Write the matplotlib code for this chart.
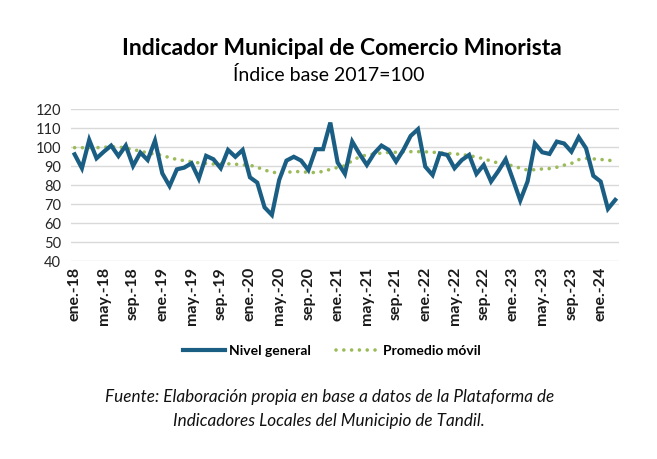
import numpy as np
import matplotlib
matplotlib.use("Agg")
import matplotlib.pyplot as plt

plt.rcParams['font.family'] = ['Lato', 'DejaVu Sans']

# monthly series, ene-18 .. mar-24
meses = ['ene.', 'feb.', 'mar.', 'abr.', 'may.', 'jun.',
         'jul.', 'ago.', 'sep.', 'oct.', 'nov.', 'dic.']
anios = ['18', '19', '20', '21', '22', '23', '24']

nivel_general = [
    96.3, 89.0, 103.9, 94.2, 97.7, 100.9, 95.4, 100.9, 90.2, 97.2, 93.3, 103.5,
    86.3, 79.6, 88.4, 89.3, 91.6, 83.5, 95.5, 93.7, 89.0, 98.6, 95.0, 98.6,
    84.2, 81.4, 68.4, 64.4, 82.8, 93.0, 95.0, 93.0, 88.0, 99.0, 99.0, 113.0,
    92.0, 86.0, 103.0, 96.5, 90.7, 96.8, 100.9, 98.6, 92.5, 98.6, 106.0, 109.5,
    89.8, 85.4, 96.8, 96.0, 89.0, 93.3, 96.0, 86.0, 90.7, 82.0, 87.5, 93.7,
    83.0, 72.0, 82.0, 102.0, 97.4, 96.5, 103.0, 102.0, 97.7, 105.3, 99.5, 85.0,
    82.0, 67.6, 72.3,
]

promedio_movil = [
    99.8, 99.8, 99.8, 99.8, 100.0, 100.3, 100.2, 99.6, 98.8, 98.0, 97.0, 96.4,
    95.8, 94.5, 93.6, 93.0, 92.4, 91.8, 91.5, 91.2, 91.3, 91.3, 91.1, 90.7,
    90.6, 89.5, 88.0, 87.0, 86.3, 86.8, 87.2, 87.2, 86.8, 86.7, 87.3, 88.4,
    89.4, 90.3, 93.0, 95.0, 96.0, 96.4, 97.0, 97.3, 97.4, 97.6, 97.7, 97.7,
    97.6, 97.4, 97.1, 96.8, 96.6, 96.2, 95.6, 94.9, 93.9, 92.8, 91.7, 91.1,
    90.2, 89.0, 88.0, 88.2, 88.6, 88.8, 89.5, 90.6, 91.5, 93.5, 94.2, 93.9,
    93.6, 93.2, 92.8,
]

etiquetas = [f"{m}-{a}" for a in anios for m in meses][:len(nivel_general)]
x = np.arange(len(nivel_general))

fig = plt.figure(figsize=(6.57, 4.59), dpi=100)
ax = fig.add_axes([0.108, 0.4307, 0.834, 0.3312])

ax.plot(x, nivel_general, color='#1B5E84', lw=3.0, solid_joinstyle='miter',
        label='Nivel general', zorder=3)
ax.plot(x, promedio_movil, color='#9BBB59', lw=2.6,
        linestyle=(0, (0.01, 2.15)), dash_capstyle='round',
        label='Promedio móvil', zorder=2)

ax.set_xlim(-0.5, len(x) - 0.5)
ax.set_ylim(40, 120)
ax.set_yticks(np.arange(40, 121, 10))
ax.tick_params(axis='y', labelsize=10.5, length=0, pad=7, colors='#262626')
ax.set_xticks(x[::4])
ax.set_xticklabels(etiquetas[::4], rotation=90, fontsize=11.5,
                   fontweight='bold', color='#1a1a1a')
ax.tick_params(axis='x', length=0, pad=4)
ax.grid(axis='y', color='#D9D9D9', lw=1)
ax.set_axisbelow(True)
for s in ax.spines.values():
    s.set_visible(False)

fig.text(0.521, 0.895, 'Indicador Municipal de Comercio Minorista',
         ha='center', va='center', fontsize=16.5, fontweight='bold')
fig.text(0.501, 0.837, 'Índice base 2017=100', ha='center', va='center',
         fontsize=14)

fig.legend(loc='center', bbox_to_anchor=(0.505, 0.235), ncol=2,
           frameon=False, handlelength=3.0, columnspacing=1.8,
           handletextpad=0.35,
           prop={'weight': 'bold', 'size': 10})

fig.text(0.501, 0.109,
         'Fuente: Elaboración propia en base a datos de la Plataforma de\n'
         'Indicadores Locales del Municipio de Tandil.',
         ha='center', va='center', fontsize=12.3, style='italic',
         linespacing=1.55, color='#111111')

fig.savefig('out.png', dpi=100)
